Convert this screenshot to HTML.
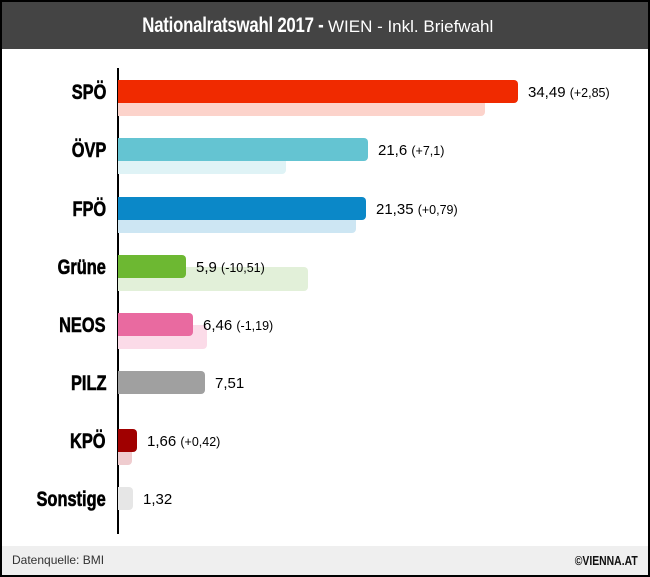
<!DOCTYPE html>
<html><head><meta charset="utf-8"><style>
*{margin:0;padding:0;box-sizing:border-box}
body{width:650px;height:577px;background:#000;position:relative;font-family:"Liberation Sans",sans-serif;overflow:hidden}
#f{position:absolute;left:2px;top:2px;width:646px;height:573px;background:#fff}
#h{position:absolute;left:0;top:0;width:646px;height:47px;background:#444;color:#fff;text-align:center;line-height:47px;font-size:17px;white-space:nowrap}
#h b{font-size:21px;display:inline-block;transform:scaleX(0.8);transform-origin:right center;margin-left:-60px;letter-spacing:-0.3px}
#ft{position:absolute;left:0;top:544px;width:646px;height:29px;background:#efefef;font-size:12px;color:#333;line-height:29px;padding-left:10px}
#ft span{position:absolute;right:10px;top:0;font-weight:bold;color:#111;display:inline-block;transform:scaleX(0.8);transform-origin:right center;font-size:13px}
#ax{position:absolute;left:115px;top:66px;width:2px;height:466px;background:#000}
.l{position:absolute;right:542px;font-weight:bold;font-size:21px;color:#000;transform:scaleX(0.78);transform-origin:right center;white-space:nowrap;-webkit-text-stroke:0.6px #000}
.b{position:absolute;left:116px;height:23px;border-radius:0 4px 4px 0}
.p{position:absolute;left:116px;height:24px;border-radius:0 4px 4px 0}
.v{position:absolute;font-size:15px;color:#000;white-space:nowrap}
.v small{font-size:12.5px}
</style></head><body><div id="f">
<div id="h"><b>Nationalratswahl 2017 -</b> WIEN - Inkl. Briefwahl</div>
<div id="ax"></div>

<div class="p" style="top:90px;width:367px;background:#fcd3cb"></div>
<div class="b" style="top:78px;width:400px;background:#f02a00"></div>
<div class="l" style="top:79px">SPÖ</div>
<div class="v" style="left:526px;top:82px">34,49 <small>(+2,85)</small></div>

<div class="p" style="top:148px;width:168px;background:#dff3f6"></div>
<div class="b" style="top:136px;width:250px;background:#64c4d2"></div>
<div class="l" style="top:137px">ÖVP</div>
<div class="v" style="left:376px;top:140px">21,6 <small>(+7,1)</small></div>

<div class="p" style="top:207px;width:238px;background:#cde6f3"></div>
<div class="b" style="top:195px;width:248px;background:#0b88c8"></div>
<div class="l" style="top:196px">FPÖ</div>
<div class="v" style="left:374px;top:199px">21,35 <small>(+0,79)</small></div>

<div class="p" style="top:265px;width:190px;background:#e2f0d9"></div>
<div class="b" style="top:253px;width:68px;background:#6db832"></div>
<div class="l" style="top:254px">Grüne</div>
<div class="v" style="left:194px;top:257px">5,9 <small>(-10,51)</small></div>

<div class="p" style="top:323px;width:89px;background:#fbdbe8"></div>
<div class="b" style="top:311px;width:75px;background:#e96aa0"></div>
<div class="l" style="top:312px">NEOS</div>
<div class="v" style="left:201px;top:315px">6,46 <small>(-1,19)</small></div>

<div class="b" style="top:369px;width:87px;background:#a0a0a0"></div>
<div class="l" style="top:370px">PILZ</div>
<div class="v" style="left:213px;top:373px">7,51</div>

<div class="p" style="top:439px;width:14px;background:#efcccf"></div>
<div class="b" style="top:427px;width:19px;background:#a00000"></div>
<div class="l" style="top:428px">KPÖ</div>
<div class="v" style="left:145px;top:431px">1,66 <small>(+0,42)</small></div>

<div class="b" style="top:485px;width:15px;background:#e6e6e6"></div>
<div class="l" style="top:486px">Sonstige</div>
<div class="v" style="left:141px;top:489px">1,32</div>

<div id="ft">Datenquelle: BMI<span>©VIENNA.AT</span></div>
</div></body></html>
